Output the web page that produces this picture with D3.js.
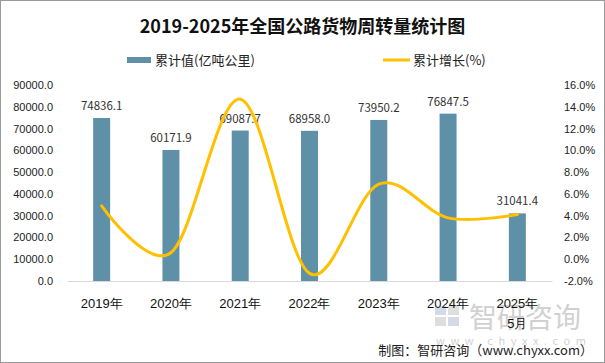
<!DOCTYPE html>
<html>
<head>
<meta charset="utf-8">
<script src="https://cdn.jsdelivr.net/npm/d3@7"></script>
<style>
  body { margin: 0; background: #fff; }
  svg { display: block; font-family: "Noto Sans CJK SC", "Noto Sans", sans-serif; }
</style>
</head>
<body>
<div id="chart"></div>
<script>
// chart data
const years = ["2019年", "2020年", "2021年", "2022年", "2023年", "2024年", "2025年\n5月"];
const totals = [74836.1, 60171.9, 69087.7, 68958.0, 73950.2, 76847.5, 31041.4];
const growth = [4.9, 0.6, 14.7, -1.3, 6.9, 3.8, 4.1];
const leftTicks = [0, 10000, 20000, 30000, 40000, 50000, 60000, 70000, 80000, 90000];
const rightTicks = [-2, 0, 2, 4, 6, 8, 10, 12, 14, 16];

const W = 605, H = 363;
const plot = { left: 67, right: 552, top: 85, bottom: 281 };
const barColor = "#5e90a7", lineColor = "#ffc000";

const svg = d3.select("#chart").append("svg")
    .attr("width", W)
    .attr("height", H);

// frame
svg.append("rect")
    .attr("x", 0.5).attr("y", 0.5)
    .attr("width", W - 1).attr("height", H - 1)
    .attr("fill", "#fff")
    .attr("stroke", "#9a9a9a");

// watermark (sits behind everything else)
const wm = svg.append("g").attr("opacity", 0.45);
wm.append("rect").attr("x", 435).attr("y", 306).attr("width", 11).attr("height", 9).attr("fill", "#9fb3c8");
wm.append("rect").attr("x", 448).attr("y", 306).attr("width", 11).attr("height", 9).attr("fill", "#b8b8b8");
wm.append("rect").attr("x", 435).attr("y", 317).attr("width", 11).attr("height", 9).attr("fill", "#b8b8b8");
wm.append("rect").attr("x", 448).attr("y", 317).attr("width", 11).attr("height", 9).attr("fill", "#9fb3c8");
wm.append("text").attr("x", 469).attr("y", 318).attr("dy", "0.35em")
    .attr("font-size", 28).attr("fill", "#9a9a9a").text("智研咨询");
wm.append("text").attr("x", 436).attr("y", 341).attr("dy", "0.35em")
    .attr("font-size", 11).attr("letter-spacing", 5.6).attr("fill", "#9a9a9a").text("www.chyxx.com");

// title
svg.append("text")
    .attr("x", W / 2).attr("y", 27).attr("dy", "0.35em")
    .attr("text-anchor", "middle")
    .attr("font-size", 18).attr("font-weight", "bold")
    .attr("fill", "#111")
    .text("2019-2025年全国公路货物周转量统计图");

// legend
const legend = svg.append("g").attr("font-size", 13).attr("fill", "#222");
legend.append("rect").attr("x", 127).attr("y", 57).attr("width", 24).attr("height", 6).attr("fill", barColor);
legend.append("text").attr("x", 155).attr("y", 60).attr("dy", "0.35em").text("累计值(亿吨公里)");
legend.append("line").attr("x1", 383).attr("x2", 410).attr("y1", 60).attr("y2", 60)
    .attr("stroke", lineColor).attr("stroke-width", 3);
legend.append("text").attr("x", 413).attr("y", 60).attr("dy", "0.35em").text("累计增长(%)");

// scales
const x = d3.scaleBand().domain(years).range([plot.left, plot.right]);
const yL = d3.scaleLinear().domain([0, 90000]).range([plot.bottom, plot.top]);
const yR = d3.scaleLinear().domain([-2, 16]).range([plot.bottom, plot.top]);
const barW = x.bandwidth() * 0.245;

// left axis
const axL = svg.append("g")
    .attr("transform", `translate(${plot.left},0)`)
    .call(d3.axisLeft(yL).tickValues(leftTicks).tickSize(0).tickPadding(14).tickFormat(d => d.toFixed(1)));
axL.select(".domain").remove();
axL.selectAll("text").attr("font-size", 11).attr("fill", "#222").attr("font-family", null);

// right axis
const axR = svg.append("g")
    .attr("transform", `translate(${plot.right},0)`)
    .call(d3.axisRight(yR).tickValues(rightTicks).tickSize(0).tickPadding(12).tickFormat(d => d.toFixed(1) + "%"));
axR.select(".domain").remove();
axR.selectAll("text").attr("font-size", 11).attr("fill", "#222").attr("font-family", null);

// bars
svg.selectAll(".bar")
    .data(totals)
    .enter().append("rect")
    .attr("class", "bar")
    .attr("x", (d, i) => x(years[i]) + x.bandwidth() / 2 - barW / 2)
    .attr("y", d => yL(d))
    .attr("width", barW)
    .attr("height", d => yL(0) - yL(d))
    .attr("fill", barColor);

// x axis
const axX = svg.append("g")
    .attr("transform", `translate(0,${plot.bottom})`)
    .call(d3.axisBottom(x).tickSize(0).tickPadding(0));
axX.select(".domain").attr("stroke", "#d9d9d9");
axX.selectAll("text")
    .attr("font-size", 13).attr("fill", "#111").attr("font-family", null)
    .attr("y", 0).attr("dy", null)
    .each(function(d) {
        const t = d3.select(this).text("");
        d.split("\n").forEach((s, k) => {
            t.append("tspan").attr("x", 0).attr("y", 27 + k * 20).text(s);
        });
    });

// data labels
svg.selectAll(".val")
    .data(totals)
    .enter().append("text")
    .attr("class", "val")
    .attr("x", (d, i) => x(years[i]) + x.bandwidth() / 2)
    .attr("y", d => yL(d) - 8)
    .attr("text-anchor", "middle")
    .attr("font-size", 11.5)
    .attr("fill", "#333")
    .text(d => d.toFixed(1));

// growth line
const line = d3.line()
    .x((d, i) => x(years[i]) + x.bandwidth() / 2)
    .y(d => yR(d))
    .curve(d3.curveCardinal.tension(0));
svg.append("path")
    .datum(growth)
    .attr("d", line)
    .attr("fill", "none")
    .attr("stroke", lineColor)
    .attr("stroke-width", 3)
    .attr("stroke-linecap", "round");

// source
svg.append("text")
    .attr("x", 593).attr("y", 350).attr("dy", "0.35em")
    .attr("text-anchor", "end")
    .attr("font-size", 13).attr("fill", "#222")
    .text("制图：智研咨询（www.chyxx.com）");
</script>
</body>
</html>
